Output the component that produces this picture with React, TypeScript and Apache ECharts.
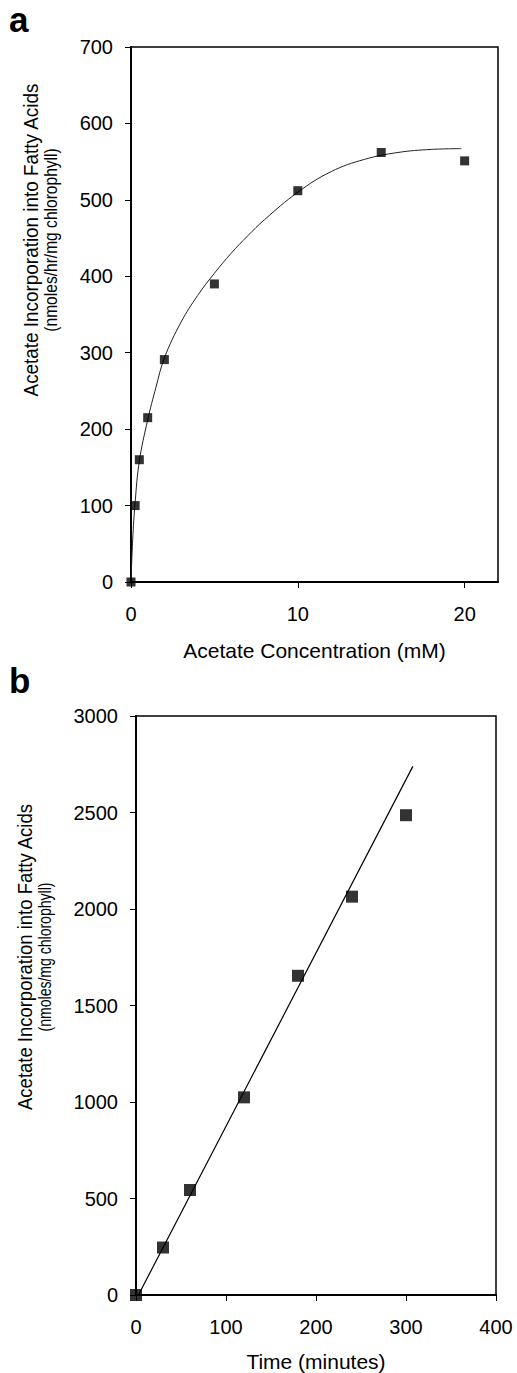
import React, { useEffect, useRef } from "react";
import * as echarts from "echarts";

// Panel a: acetate concentration series
const concX = [0, 0.25, 0.5, 1, 2, 5, 10, 15, 20];
const concY = [0, 100, 160, 215, 291, 390, 512, 562, 551];
// Panel a: fitted curve
const curveX = [0, 0.1, 0.25, 0.5, 1, 1.5, 2, 3, 4, 5, 6, 7, 8, 10, 12, 14, 16, 18, 19.8];
const curveY = [0, 55, 105, 158, 212, 255, 293, 340, 375, 404, 430, 453, 474, 510, 537, 553, 562, 566, 567];
// Panel b: time course series
const timeX = [0, 30, 60, 120, 180, 240, 300];
const timeY = [0, 246, 544, 1024, 1654, 2064, 2486];
// Panel b: linear trend line end points
const trendX = [2.7, 307.6];
const trendY = [0, 2739];

const FONT = "'Liberation Sans', Arial, sans-serif";

const zip = (xs: number[], ys: number[]) => xs.map((x, i) => [x, ys[i]]);
const plain = (v: number) => String(v);

export default function App() {
  const ref = useRef<HTMLDivElement>(null);
  useEffect(() => {
    if (!ref.current) return;
    const chart = echarts.init(ref.current, null, { renderer: "svg" });
    const axisCommon = {
      axisLine: { show: true, lineStyle: { color: "#000", width: 2 } },
      axisTick: { show: true, inside: false, length: 6, lineStyle: { color: "#000", width: 1 } },
      splitLine: { show: false },
      axisLabel: { color: "#000", fontFamily: FONT, fontSize: 20, formatter: plain },
      nameTextStyle: { color: "#000", fontFamily: FONT, fontSize: 21 },
    };
    const title = (text: string, x: number, y: number, size: number, sx: number) => ({
      type: "text",
      x,
      y,
      rotation: Math.PI / 2,
      scaleX: sx,
      scaleY: 1,
      style: { text, font: `${size}px ${FONT}`, fill: "#000", align: "center", verticalAlign: "middle" },
    });
    chart.setOption({
      animation: false,
      backgroundColor: "#fff",
      grid: [
        { left: 131, top: 47, width: 367, height: 535, show: true, borderColor: "#000", borderWidth: 1.5, backgroundColor: "transparent" },
        { left: 136, top: 716, width: 360, height: 581, show: true, borderColor: "#000", borderWidth: 1.5, backgroundColor: "transparent" },
      ],
      xAxis: [
        {
          ...axisCommon,
          type: "value",
          gridIndex: 0,
          min: 0,
          max: 22,
          interval: 10,
          name: "Acetate Concentration (mM)",
          nameLocation: "middle",
          nameGap: 58,
          axisLabel: { ...axisCommon.axisLabel, margin: 22, showMaxLabel: false, formatter: (v: number) => (v === 22 ? "" : String(v)) },
        },
        {
          ...axisCommon,
          type: "value",
          gridIndex: 1,
          min: 0,
          max: 400,
          interval: 100,
          name: "Time (minutes)",
          nameLocation: "middle",
          nameGap: 56,
          axisLabel: { ...axisCommon.axisLabel, margin: 22 },
        },
      ],
      yAxis: [
        {
          ...axisCommon,
          type: "value",
          gridIndex: 0,
          min: 0,
          max: 700,
          interval: 100,
          axisLabel: { ...axisCommon.axisLabel, margin: 18 },
        },
        {
          ...axisCommon,
          type: "value",
          gridIndex: 1,
          min: 0,
          max: 3000,
          interval: 500,
          axisLabel: { ...axisCommon.axisLabel, margin: 18 },
        },
      ],
      series: [
        {
          type: "line",
          xAxisIndex: 0,
          yAxisIndex: 0,
          data: zip(curveX, curveY),
          smooth: 0.4,
          showSymbol: false,
          symbol: "none",
          lineStyle: { color: "#222", width: 1 },
          z: 2,
        },
        {
          type: "scatter",
          xAxisIndex: 0,
          yAxisIndex: 0,
          data: zip(concX, concY),
          symbol: "rect",
          symbolSize: 9,
          itemStyle: { color: "#000" },
          z: 3,
        },
        {
          type: "line",
          xAxisIndex: 1,
          yAxisIndex: 1,
          data: zip(trendX, trendY),
          showSymbol: false,
          symbol: "none",
          lineStyle: { color: "#000", width: 1.2 },
          z: 2,
        },
        {
          type: "scatter",
          xAxisIndex: 1,
          yAxisIndex: 1,
          data: zip(timeX, timeY),
          symbol: "rect",
          symbolSize: 12,
          itemStyle: { color: "#000" },
          z: 3,
        },
      ],
      graphic: [
        { type: "text", left: 9, top: 2, style: { text: "a", font: `bold 35px ${FONT}`, fill: "#000" } },
        { type: "text", left: 9, top: 663, style: { text: "b", font: `bold 35px ${FONT}`, fill: "#000" } },
        title("Acetate Incorporation into Fatty Acids", 31, 240, 21, 0.9),
        title("(nmoles/hr/mg chlorophyll)", 50, 240, 19, 0.82),
        title("Acetate Incorporation into Fatty Acids", 25, 957, 21, 0.88),
        title("(nmoles/mg chlorophyll)", 44, 957, 18, 0.78),
      ],
    });
    return () => chart.dispose();
  }, []);
  return <div ref={ref} style={{ position: "absolute", left: 0, top: 0, width: 517, height: 1373, background: "#fff" }} />;
}
